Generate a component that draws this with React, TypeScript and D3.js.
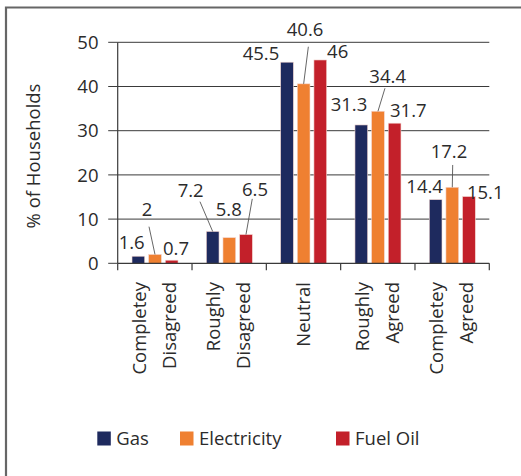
import React from "react";
import * as d3 from "d3";

// Survey responses (% of households) by fuel type
const categories = [
  ["Completey", "Disagreed"],
  ["Roughly", "Disagreed"],
  ["Neutral"],
  ["Roughly", "Agreed"],
  ["Completey", "Agreed"],
];
const seriesNames = ["Gas", "Electricity", "Fuel Oil"];
const gas = [1.6, 7.2, 45.5, 31.3, 14.4];
const electricity = [2, 5.8, 40.6, 34.4, 17.2];
const fuelOil = [0.7, 6.5, 46, 31.7, 15.1];
const yTicks = [0, 10, 20, 30, 40, 50];

const seriesValues = [gas, electricity, fuelOil];
const colors = ["#1e2a5e", "#ef8031", "#c3202a"];

// Value-label placement relative to the top centre of each bar:
// dx/dy move the label baseline, lead = start of a leader line back to the bar.
type Place = { dx: number; dy: number; lead?: [number, number] };
const labelPlacement: Place[][] = [
  // Gas
  [
    { dx: -6.7, dy: -7 },
    { dx: -22, dy: -34.5, lead: [9.3, 4.7] },
    { dx: -26, dy: -2 },
    { dx: -12.3, dy: -14 },
    { dx: -11, dy: -6.3 },
  ],
  // Electricity
  [
    { dx: -8, dy: -38.5, lead: [2, 10.7] },
    { dx: -0.6, dy: -21.7 },
    { dx: 1.4, dy: -47.8, lead: [3.3, 10.7] },
    { dx: 9.7, dy: -28.6, lead: [-2.7, 5.6] },
    { dx: -3.3, dy: -29, lead: [3.7, 6.7] },
  ],
  // Fuel Oil
  [
    { dx: 4.4, dy: -5 },
    { dx: 9, dy: -39, lead: [-2.7, 3.3] },
    { dx: 17.4, dy: -1.7 },
    { dx: 13.7, dy: -6 },
    { dx: 16.3, dy: 2.5 },
  ],
];

const W = 521;
const H = 476;
const FONT = "'Open Sans', 'Noto Sans', sans-serif";
const TEXT = "#2b2b2b";

export default function App() {
  const left = 117.7;
  const right = 489.3;
  const top = 42.3;
  const bottom = 263.3;

  const x = d3
    .scaleBand<number>()
    .domain(d3.range(categories.length))
    .range([left, right])
    .paddingInner(0)
    .paddingOuter(0);
  const step = x.step();
  const xs = d3
    .scaleBand<number>()
    .domain(d3.range(seriesNames.length))
    .range([step * 0.1925, step * 0.8115])
    .paddingInner(0.237)
    .paddingOuter(0);
  const y = d3.scaleLinear().domain([0, 50]).range([bottom, top]);

  const fs = 18.5;

  return (
    <svg
      width={W}
      height={H}
      viewBox={`0 0 ${W} ${H}`}
      style={{ position: "fixed", left: 0, top: 0, display: "block", background: "#fff" }}
      fontFamily={FONT}
    >
      {/* frame */}
      <path d={`M6 ${H} V7.5 H${W}`} fill="none" stroke="#666" strokeWidth={2.2} />

      {/* gridlines */}
      {yTicks.slice(1).map((t) => (
        <line key={t} x1={left} x2={right} y1={y(t)} y2={y(t)} stroke="#3a3a3a" strokeWidth={1} />
      ))}

      {/* y ticks and labels */}
      {yTicks.map((t) => (
        <g key={t}>
          <line x1={left - 9.5} x2={left} y1={y(t)} y2={y(t)} stroke="#3a3a3a" strokeWidth={1} />
          <text x={98.5} y={y(t)} dy="0.36em" textAnchor="end" fontSize={fs} fill={TEXT}>
            {t}
          </text>
        </g>
      ))}

      {/* axis title */}
      <text
        transform={`translate(${40} ${156}) rotate(-90)`}
        textAnchor="middle"
        fontSize={fs}
        fill={TEXT}
      >
        % of Households
      </text>

      {/* bars */}
      {seriesValues.map((vals, s) =>
        vals.map((v, i) => (
          <rect
            key={`${s}-${i}`}
            x={(x(i) as number) + (xs(s) as number)}
            y={y(v)}
            width={xs.bandwidth()}
            height={y(0) - y(v)}
            fill={colors[s]}
            stroke="#f3d6d0"
            strokeWidth={0.6}
          />
        ))
      )}

      {/* value labels with leaders */}
      {seriesValues.map((vals, s) =>
        vals.map((v, i) => {
          const p = labelPlacement[s][i];
          const cx = (x(i) as number) + (xs(s) as number) + xs.bandwidth() / 2;
          const ty = y(v);
          const lx = cx + p.dx;
          const ly = ty + p.dy;
          return (
            <g key={`l${s}-${i}`}>
              {p.lead && (
                <line
                  x1={lx + p.lead[0]}
                  y1={ly + p.lead[1]}
                  x2={cx}
                  y2={ty}
                  stroke="#555"
                  strokeWidth={0.9}
                />
              )}
              <text x={lx} y={ly} textAnchor="middle" fontSize={fs} fill={TEXT}>
                {v}
              </text>
            </g>
          );
        })
      )}

      {/* x axis */}
      <line x1={left} x2={right} y1={bottom} y2={bottom} stroke="#3a3a3a" strokeWidth={1.2} />
      <line x1={left} x2={left} y1={top} y2={bottom} stroke="#3a3a3a" strokeWidth={1.2} />
      {d3.range(categories.length + 1).map((i) => (
        <line
          key={i}
          x1={left + i * step}
          x2={left + i * step}
          y1={bottom}
          y2={bottom + 7}
          stroke="#3a3a3a"
          strokeWidth={1.2}
        />
      ))}

      {/* category labels */}
      {categories.map((lines, i) => {
        const cx = (x(i) as number) + step / 2;
        const n = lines.length;
        return lines.map((ln, k) => {
          const off = (k - (n - 1) / 2) * 30;
          return (
            <text
              key={`c${i}-${k}`}
              transform={`translate(${cx + off + 6} ${282}) rotate(-90)`}
              textAnchor="end"
              fontSize={fs}
              fill={TEXT}
            >
              {ln}
            </text>
          );
        });
      })}

      {/* legend */}
      {seriesNames.map((name, s) => {
        const lx = [97.3, 180, 336][s];
        return (
          <g key={name}>
            <rect x={lx} y={431.5} width={13.5} height={14} fill={colors[s]} />
            <text x={lx + 19} y={438.5} dy="0.36em" fontSize={fs} fill={TEXT}>
              {name}
            </text>
          </g>
        );
      })}
    </svg>
  );
}
